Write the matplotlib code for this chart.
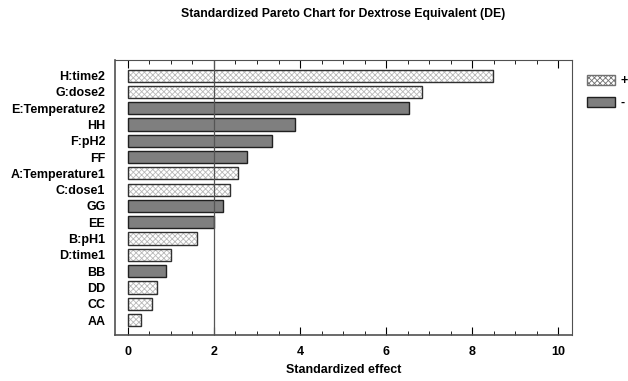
import numpy as np
import matplotlib
matplotlib.use('Agg')
import matplotlib.pyplot as plt
from matplotlib.patches import Patch
from matplotlib.ticker import MultipleLocator

plt.rcParams['font.family'] = ['Liberation Sans', 'DejaVu Sans']
plt.rcParams['font.weight'] = 'bold'
plt.rcParams['hatch.linewidth'] = 0.6

# effects, top to bottom
terms = ['H:time2', 'G:dose2', 'E:Temperature2', 'HH', 'F:pH2', 'FF',
         'A:Temperature1', 'C:dose1', 'GG', 'EE', 'B:pH1', 'D:time1',
         'BB', 'DD', 'CC', 'AA']
effects = [8.49, 6.83, 6.53, 3.88, 3.36, 2.77, 2.56, 2.37, 2.22, 2.00,
           1.60, 0.99, 0.88, 0.68, 0.57, 0.30]
signs = ['+', '+', '-', '-', '-', '-', '+', '+', '-', '-',
         '+', '+', '-', '+', '+', '+']
threshold = 2.0

fig = plt.figure(figsize=(6.28, 3.81), dpi=100)
ax = fig.add_axes([115/628, 1 - 335/381, (572-115)/628, (335-60)/381])

y = np.arange(len(terms))
for yi, val, s in zip(y, effects, signs):
    if s == '+':
        ax.barh(yi, val, height=0.75, color='white', edgecolor='#b8b8b8',
                hatch='xxxxxx', linewidth=0)
        ax.barh(yi, val, height=0.75, fill=False, edgecolor='#303030',
                linewidth=1.0)
    else:
        ax.barh(yi, val, height=0.75, color='#7f7f7f', edgecolor='#202020',
                linewidth=1.0)

ax.axvline(threshold, color='#555555', linewidth=0.9)

ax.set_xlim(-0.3, 10.32)
ax.set_ylim(len(terms) - 1 + 0.92, -0.96)
ax.set_yticks(y)
ax.set_yticklabels(terms, fontsize=9)
ax.tick_params(axis='y', length=0, pad=7)
ax.xaxis.set_major_locator(MultipleLocator(2))
ax.xaxis.set_minor_locator(MultipleLocator(0.5))
ax.tick_params(axis='x', which='both', direction='in', top=True,
               labelsize=9, pad=8)
ax.tick_params(axis='x', which='major', length=6)
ax.tick_params(axis='x', which='minor', length=3)
for sp in ax.spines.values():
    sp.set_color('#505050')
ax.spines['left'].set_linewidth(1.2)
ax.spines['bottom'].set_linewidth(1.2)

ax.set_xlabel('Standardized effect', fontsize=9, fontweight='bold', labelpad=4)
fig.text(343/628, 1 - 14/381, 'Standardized Pareto Chart for Dextrose Equivalent (DE)',
         ha='center', va='center', fontsize=8.8, fontweight='bold')

handles = [Patch(facecolor='white', edgecolor='#707070', hatch='xxxxxx', linewidth=1.0),
           Patch(facecolor='#7f7f7f', edgecolor='#202020', linewidth=1.0)]
fig.legend(handles, ['+', '-'], loc='upper left', bbox_to_anchor=(587/628, 1 - 75/381),
           frameon=False, prop={'size': 9, 'weight': 'bold'}, handlelength=2.2,
           handleheight=0.85, handletextpad=0.5, labelspacing=0.75, borderpad=0,
           borderaxespad=0)

fig.savefig('out.png', dpi=100)
